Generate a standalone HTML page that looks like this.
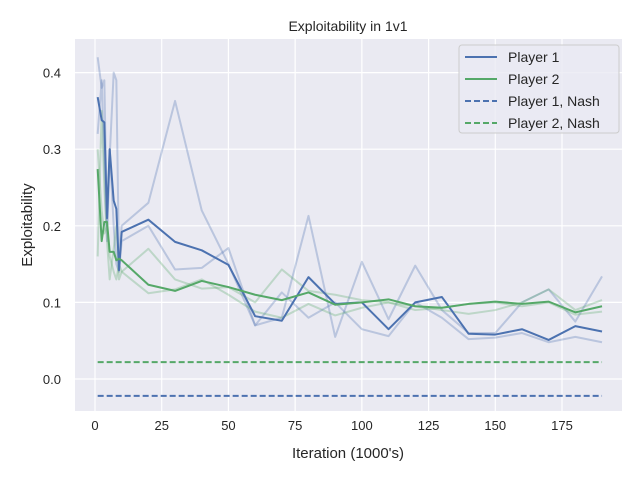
<!DOCTYPE html>
<html><head><meta charset="utf-8"><style>
body{margin:0;background:#fff;}
svg text{font-family:"Liberation Sans","DejaVu Sans",sans-serif;fill:#262626;}
</style></head><body>
<svg width="640" height="480" id="chart">
<rect x="75" y="39" width="547" height="372" fill="#eaeaf2"/>
<g id="grid"></g>
<g id="series"></g>
<g id="ticks"></g>
<text x="348" y="31" text-anchor="middle" font-size="14">Exploitability in 1v1</text>
<text x="348" y="458" text-anchor="middle" font-size="15">Iteration (1000's)</text>
<text x="32" y="225" text-anchor="middle" font-size="15" transform="rotate(-90 32 225)">Exploitability</text>
<g>
<rect x="459" y="45" width="160" height="88" rx="3" fill="#eaeaf2" stroke="#cccccc" fill-opacity="0.8"/>
<line x1="465" y1="57" x2="497" y2="57" stroke="#4c72b0" stroke-width="2"/>
<text x="508" y="62" font-size="14">Player 1</text>
<line x1="465" y1="79" x2="497" y2="79" stroke="#55a868" stroke-width="2"/>
<text x="508" y="84" font-size="14">Player 2</text>
<line x1="465" y1="101" x2="497" y2="101" stroke="#4c72b0" stroke-width="2" stroke-dasharray="6,3"/>
<text x="508" y="106" font-size="14">Player 1, Nash</text>
<line x1="465" y1="123" x2="497" y2="123" stroke="#55a868" stroke-width="2" stroke-dasharray="6,3"/>
<text x="508" y="128" font-size="14">Player 2, Nash</text>
</g>
</svg>
<script>
const itersEarly = [1,2.5,3.5,4.5,5.5,7,8,9,10];
const itersLate = [20,30,40,50,60,70,80,90,100,110,120,130,140,150,160,170,180,190];
const p1Early = [0.368,0.338,0.335,0.21,0.30,0.233,0.222,0.142,0.192];
const p1Late = [0.208,0.179,0.168,0.149,0.082,0.076,0.133,0.098,0.1,0.065,0.1,0.107,0.059,0.058,0.065,0.051,0.069,0.062];
const p2Early = [0.274,0.18,0.205,0.205,0.166,0.166,0.155,0.157,0.155];
const p2Late = [0.123,0.115,0.128,0.12,0.11,0.103,0.113,0.097,0.1,0.104,0.095,0.093,0.098,0.101,0.098,0.101,0.087,0.095];
const faintA = [0.42,0.38,0.39,0.20,0.29,0.40,0.39,0.15,0.20,0.23,0.363,0.22,0.15,0.07,0.113,0.08,0.10,0.065,0.056,0.10,0.08,0.052,0.054,0.06,0.048,0.055,0.048];
const faintB = [0.32,0.39,0.28,0.18,0.30,0.2,0.15,0.14,0.18,0.2,0.143,0.145,0.171,0.07,0.08,0.213,0.055,0.153,0.078,0.148,0.09,0.06,0.06,0.1,0.117,0.075,0.134];
const faintC = [0.16,0.35,0.25,0.18,0.13,0.17,0.2,0.13,0.14,0.17,0.13,0.118,0.12,0.10,0.143,0.115,0.11,0.103,0.1,0.095,0.09,0.085,0.09,0.1,0.117,0.09,0.103];
const faintD = [0.3,0.22,0.19,0.2,0.16,0.14,0.13,0.15,0.14,0.112,0.117,0.13,0.11,0.088,0.08,0.098,0.083,0.093,0.1,0.09,0.093,0.098,0.1,0.095,0.1,0.084,0.088];
const nashP1 = -0.022, nashP2 = 0.022;
const xTicks = [0,25,50,75,100,125,150,175];
const yTicks = [0.0,0.1,0.2,0.3,0.4];

const X = v => 95 + v*(562-95)/175;
const Y = v => 379 - v*766;
const NS = "http://www.w3.org/2000/svg";
const iters = itersEarly.concat(itersLate);
function mk(tag, attrs, parent){const e=document.createElementNS(NS,tag);for(const k in attrs)e.setAttribute(k,attrs[k]);parent.appendChild(e);return e;}
const grid=document.getElementById('grid'), ser=document.getElementById('series'), tk=document.getElementById('ticks');
xTicks.forEach(t=>{
  const l=mk('line',{x1:X(t),x2:X(t),y1:39,y2:411,stroke:'#fff','stroke-width':1.2},grid);
  
  
  const tx=mk('text',{x:X(t),y:430,'text-anchor':'middle','font-size':13},tk);
  tx.textContent=t;
  
  
});
yTicks.forEach(t=>{
  const l=mk('line',{x1:75,x2:622,y1:Y(t),y2:Y(t),stroke:'#fff','stroke-width':1.2},grid);
  
  
  const tx=mk('text',{x:61,y:Y(t)+5,'text-anchor':'end','font-size':13},tk);
  tx.textContent=t.toFixed(1);
  
  
});
function line(vals,color,w,op,name){
  const pts=vals.map((v,i)=>X(iters[i])+','+Y(v)).join(' ');
  const p=mk('polyline',{points:pts,fill:'none',stroke:color,'stroke-width':w,'stroke-opacity':op,'stroke-linejoin':'round'},ser);
  
  
}
line(faintA,'#4c72b0',2,0.3,'player1-run-a');
line(faintB,'#4c72b0',2,0.3,'player1-run-b');
line(faintC,'#55a868',2,0.3,'player2-run-a');
line(faintD,'#55a868',2,0.3,'player2-run-b');
line(p1Early.concat(p1Late),'#4c72b0',2,1,'player1-line');
line(p2Early.concat(p2Late),'#55a868',2,1,'player2-line');
const n1=mk('line',{x1:X(1),x2:X(190),y1:Y(nashP1),y2:Y(nashP1),stroke:'#4c72b0','stroke-width':2,'stroke-dasharray':'6,3'},ser);


const n2=mk('line',{x1:X(1),x2:X(190),y1:Y(nashP2),y2:Y(nashP2),stroke:'#55a868','stroke-width':2,'stroke-dasharray':'6,3'},ser);


</script>
</body></html>
